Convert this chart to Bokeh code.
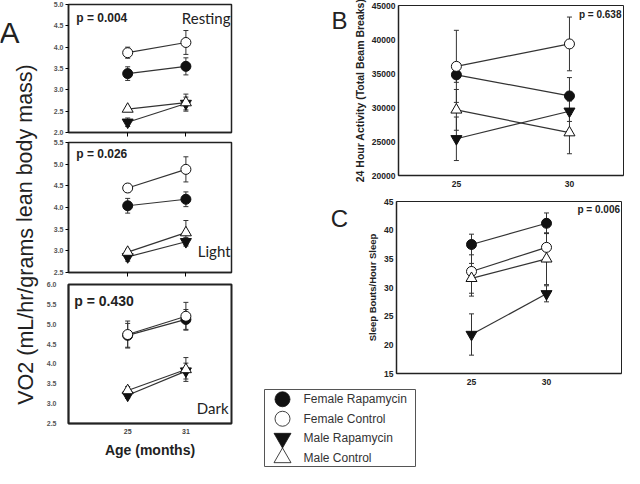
from bokeh.plotting import figure
from bokeh.models import (ColumnDataSource, Whisker, TeeHead, Range1d, Label,
                          FixedTicker, Spacer, FactorRange, NumeralTickFormatter)
from bokeh.layouts import row, column
from bokeh.embed import file_html
from bokeh.resources import INLINE
from bokeh.core.properties import value

# ---------------- data ----------------
groups = ["Female Rapamycin", "Female Control", "Male Rapamycin", "Male Control"]
markers = ["circle", "circle", "inverted_triangle", "triangle"]
fills = ["#111111", "white", "#111111", "white"]

ages_a = [25, 31]
ages_bc = [25, 30]

# Panel A - Resting VO2
rest_fr = [3.38, 3.55];  rest_fr_err = [0.16, 0.20]
rest_fc = [3.87, 4.11];  rest_fc_err = [0.13, 0.28]
rest_mr = [2.24, 2.68];  rest_mr_err = [0.10, 0.15]
rest_mc = [2.55, 2.70];  rest_mc_err = [0.06, 0.20]

# Panel A - Light VO2
light_fr = [4.04, 4.19]; light_fr_err = [0.17, 0.17]
light_fc = [4.45, 4.88]; light_fc_err = [0.10, 0.29]
light_mr = [2.86, 3.21]; light_mr_err = [0.10, 0.10]
light_mc = [2.97, 3.42]; light_mc_err = [0.07, 0.28]

# Panel A - Dark VO2
dark_fr = [4.72, 5.12];  dark_fr_err = [0.30, 0.25]
dark_fc = [4.74, 5.20];  dark_fc_err = [0.34, 0.35]
dark_mr = [3.21, 3.82];  dark_mr_err = [0.08, 0.20]
dark_mc = [3.33, 3.86];  dark_mc_err = [0.10, 0.30]

# Panel B - 24 hour activity
act_fr = [34800, 31700]; act_fr_err = [1100, 2700]
act_fc = [36050, 39350]; act_fc_err = [5300, 3950]
act_mr = [25400, 29450]; act_mr_err = [3200, 1500]
act_mc = [29650, 26300]; act_mc_err = [3000, 3100]

# Panel C - sleep bouts
sleep_fr = [37.5, 41.2]; sleep_fr_err = [1.8, 1.8]
sleep_fc = [32.8, 37.0]; sleep_fc_err = [4.3, 2.5]
sleep_mr = [21.8, 28.9]; sleep_mr_err = [3.6, 1.4]
sleep_mc = [31.6, 35.0]; sleep_mc_err = [2.6, 4.5]

p_vals = ["p = 0.004", "p = 0.026", "p = 0.430", "p = 0.638", "p = 0.006"]
a_titles = ["Resting", "Light", "Dark"]
panel_letters = ["A", "B", "C"]

FONT = "Liberation Sans"


def make_fig(w, h, xr, yr, bl, br, bt, bb):
    p = figure(width=w, height=h, x_range=Range1d(*xr), y_range=Range1d(*yr),
               output_backend="svg", toolbar_location=None, min_border=0)
    p.min_border_left = bl
    p.min_border_right = br
    p.min_border_top = bt
    p.min_border_bottom = bb
    p.xgrid.visible = False
    p.ygrid.visible = False
    p.outline_line_color = "#222222"
    p.outline_line_width = 1.5
    p.outline_line_alpha = 1
    for ax in (p.xaxis, p.yaxis):
        ax.axis_line_color = "#222222"
        ax.axis_line_width = 1.5
        ax.minor_tick_line_color = None
        ax.major_tick_in = 0
        ax.major_label_text_font = FONT
        ax.major_label_text_font_style = "bold"
        ax.axis_label_text_font = FONT
        ax.axis_label_text_font_style = "bold"
    return p


def blank_fig(w, h):
    p = figure(width=w, height=h, x_range=Range1d(0, w), y_range=Range1d(0, h),
               output_backend="svg", toolbar_location=None, min_border=0,
               x_axis_type=None, y_axis_type=None)
    p.outline_line_color = None
    p.xgrid.visible = False
    p.ygrid.visible = False
    return p


def draw_series(p, xs, series, size_c, size_t):
    for (vals, errs), mk, fc in zip(series, markers, fills):
        src = ColumnDataSource(dict(x=xs, y=vals,
                                    lo=[v - e for v, e in zip(vals, errs)],
                                    hi=[v + e for v, e in zip(vals, errs)]))
        w = Whisker(base="x", upper="hi", lower="lo", source=src,
                    line_color="#333333", line_width=1,
                    upper_head=TeeHead(size=5, line_color="#333333", line_width=1),
                    lower_head=TeeHead(size=5, line_color="#333333", line_width=1))
        p.add_layout(w)
        p.line("x", "y", source=src, line_color="#333333", line_width=1.2)
        sz = size_c if mk == "circle" else size_t
        p.scatter("x", "y", source=src, marker=mk, size=sz, fill_color=fc,
                  line_color="#111111", line_width=1)


def style_a(p, yticks, show_ticks=True, show_xlabels=False):
    p.yaxis.ticker = FixedTicker(ticks=yticks)
    p.yaxis.formatter = NumeralTickFormatter(format="0.0")
    p.yaxis.major_label_text_font_size = "7px"
    p.yaxis.major_label_text_color = "#555555"
    p.xaxis.ticker = FixedTicker(ticks=ages_a)
    if show_ticks:
        p.yaxis.major_tick_out = 3
        p.yaxis.major_label_standoff = 2
        p.xaxis.major_tick_out = 4
    else:
        p.yaxis.major_tick_out = 0
        p.yaxis.major_tick_line_color = None
        p.yaxis.major_label_standoff = 12
        p.xaxis.major_tick_out = 0
        p.xaxis.major_tick_line_color = None
    if show_xlabels:
        p.xaxis.major_label_text_font_size = "7px"
        p.xaxis.major_label_text_color = "#444444"
        p.xaxis.major_label_standoff = 5
        p.xaxis.axis_label = "Age (months)"
        p.xaxis.axis_label_text_font_size = "14px"
        p.xaxis.axis_label_text_color = "#222222"
        p.xaxis.axis_label_standoff = 5
    else:
        p.xaxis.major_label_text_color = None
        p.xaxis.major_label_standoff = 0


XR_A = (18.9, 35.7)

# ---------------- strip with panel letter A and VO2 label ----------------
strip = blank_fig(40, 468)
strip.add_layout(Label(x=9, y=436, text=panel_letters[0], text_font=FONT, text_font_size="30px",
                       text_align="center", text_baseline="middle", text_color="#222222"))
strip.add_layout(Label(x=25, y=234, text="VO2 (mL/hr/grams lean body mass)", angle=1.5708,
                       text_font=FONT, text_font_size="21.5px", text_align="center",
                       text_baseline="middle", text_color="#222222"))

# ---------------- A1 resting ----------------
a1 = make_fig(196, 137, XR_A, (2.0, 5.0), 20, 5, 4, 5)
style_a(a1, [2.0, 2.5, 3.0, 3.5, 4.0, 4.5, 5.0])
draw_series(a1, ages_a, [(rest_fr, rest_fr_err), (rest_fc, rest_fc_err),
                         (rest_mr, rest_mr_err), (rest_mc, rest_mc_err)], 10, 11)
a1.add_layout(Label(x=19.7, y=4.69, text=p_vals[0], text_font=FONT, text_font_style="bold",
                    text_font_size="12px", text_baseline="middle", text_color="#222222"))
a1.add_layout(Label(x=35.6, y=4.69, text=a_titles[0], text_font="Lato", text_font_size="15px",
                    text_align="right", text_baseline="middle", text_color="#222222"))

# ---------------- A2 light ----------------
a2 = make_fig(196, 140, XR_A, (2.5, 5.5), 20, 5, 5, 5)
style_a(a2, [2.5, 3.0, 3.5, 4.0, 4.5, 5.0, 5.5])
draw_series(a2, ages_a, [(light_fr, light_fr_err), (light_fc, light_fc_err),
                         (light_mr, light_mr_err), (light_mc, light_mc_err)], 10, 11)
a2.add_layout(Label(x=19.7, y=5.23, text=p_vals[1], text_font=FONT, text_font_style="bold",
                    text_font_size="12px", text_baseline="middle", text_color="#222222"))
a2.add_layout(Label(x=35.6, y=3.0, text=a_titles[1], text_font="Lato", text_font_size="15px",
                    text_align="right", text_baseline="middle", text_color="#222222"))

# ---------------- A3 dark ----------------
a3 = make_fig(196, 191, XR_A, (2.5, 6.0), 28, 3, 7, 45)
style_a(a3, [2.5, 3.0, 3.5, 4.0, 4.5, 5.0, 5.5, 6.0], show_ticks=False, show_xlabels=True)
a3.outline_line_width = 2
draw_series(a3, ages_a, [(dark_fr, dark_fr_err), (dark_fc, dark_fc_err),
                         (dark_mr, dark_mr_err), (dark_mc, dark_mc_err)], 10, 11)
a3.add_layout(Label(x=19.5, y=5.59, text=p_vals[2], text_font=FONT, text_font_style="bold",
                    text_font_size="14px", text_baseline="middle", text_color="#222222"))
a3.add_layout(Label(x=35.4, y=2.88, text=a_titles[2], text_font="Lato", text_font_size="15px",
                    text_align="right", text_baseline="middle", text_color="#222222"))


def style_bc(p, yticks, ylabel, ylabel_size):
    p.outline_line_width = 1
    p.yaxis.ticker = FixedTicker(ticks=yticks)
    p.xaxis.ticker = FixedTicker(ticks=ages_bc)
    for ax in (p.xaxis, p.yaxis):
        ax.major_label_text_font_size = "8.5px"
        ax.major_label_text_color = "#222222"
        ax.major_tick_out = 0
        ax.major_tick_line_color = None
        ax.major_label_standoff = 3
    p.xaxis.major_label_standoff = 5
    p.yaxis.axis_label = ylabel
    p.yaxis.axis_label_text_font_size = ylabel_size
    p.yaxis.axis_label_text_color = "#222222"
    p.yaxis.axis_label_standoff = 3


# ---------------- B activity ----------------
LETTER_W = 114
b_letter = blank_fig(LETTER_W, 189)
b_letter.add_layout(Label(x=103, y=172, text=panel_letters[1], text_font=FONT,
                          text_font_size="24px", text_align="center", text_baseline="middle",
                          text_color="#222222"))
b = make_fig(388 - LETTER_W, 189, (22.44, 32.39), (20000, 45000), 46, 1, 5, 14)
style_bc(b, [20000, 25000, 30000, 35000, 40000, 45000],
         "24 Hour Activity (Total Beam Breaks)", "10.5px")
draw_series(b, ages_bc, [(act_fr, act_fr_err), (act_fc, act_fc_err),
                         (act_mr, act_mr_err), (act_mc, act_mc_err)], 10, 11)
b.add_layout(Label(x=32.3, y=43730, text=p_vals[3], text_font=FONT, text_font_style="bold",
                   text_font_size="10px", text_align="right", text_baseline="middle",
                   text_color="#222222"))

# ---------------- C sleep ----------------
c_letter = blank_fig(LETTER_W, 200)
c_letter.add_layout(Label(x=103, y=180, text=panel_letters[2], text_font=FONT,
                          text_font_size="24px", text_align="center", text_baseline="middle",
                          text_color="#222222"))
c = make_fig(388 - LETTER_W, 200, (20, 35), (15, 45), 46, 3, 12, 16)
style_bc(c, [15, 20, 25, 30, 35, 40, 45], "Sleep Bouts/Hour Sleep", "9.5px")
draw_series(c, ages_bc, [(sleep_fr, sleep_fr_err), (sleep_fc, sleep_fc_err),
                         (sleep_mr, sleep_mr_err), (sleep_mc, sleep_mc_err)], 10, 11)
c.add_layout(Label(x=34.9, y=43.6, text=p_vals[4], text_font=FONT, text_font_style="bold",
                   text_font_size="10px", text_align="right", text_baseline="middle",
                   text_color="#222222"))

# ---------------- legend ----------------
LEG_MARK_X = 18
LEG_TEXT_X = 39
leg = figure(width=152, height=78, x_range=Range1d(0, 152),
             y_range=FactorRange(*reversed(groups)),
             output_backend="svg", toolbar_location=None, min_border=0,
             x_axis_type=None, y_axis_type=None)
leg.xgrid.visible = False
leg.ygrid.visible = False
leg.outline_line_color = "#555555"
leg.outline_line_width = 1
leg_src = ColumnDataSource(dict(x=[LEG_MARK_X] * len(groups), tx=[LEG_TEXT_X] * len(groups),
                                y=groups, marker=markers, fill=fills,
                                size=[15 if m == "circle" else 17 for m in markers]))
leg.scatter("x", "y", source=leg_src, marker="marker", size="size", fill_color="fill",
            line_color="#111111", line_width=0.8)
leg.text("tx", "y", text="y", source=leg_src, text_font=value(FONT),
         text_font_size=value("12px"), text_baseline="middle", text_color="#333333")

legend_block = row(Spacer(width=28), leg)

left_col = column(a1, a2, a3)
right_col = column(row(b_letter, b), row(c_letter, c), legend_block)
layout = row(strip, left_col, right_col)

open("out.html", "w").write(file_html(layout, INLINE))
